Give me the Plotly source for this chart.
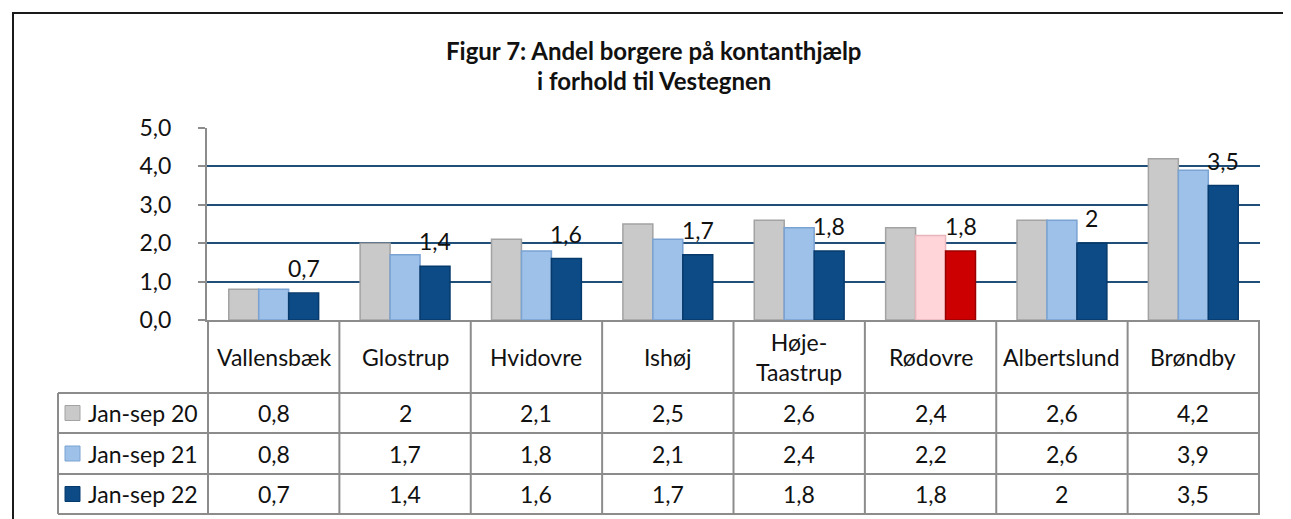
import plotly.graph_objects as go

categories = ["Vallensbæk", "Glostrup", "Hvidovre", "Ishøj", "Høje-Taastrup", "Rødovre", "Albertslund", "Brøndby"]
category_labels = ["Vallensbæk", "Glostrup", "Hvidovre", "Ishøj", "Høje-<br>Taastrup", "Rødovre", "Albertslund", "Brøndby"]
series_names = ["Jan-sep 20", "Jan-sep 21", "Jan-sep 22"]
jan_sep_20 = [0.8, 2, 2.1, 2.5, 2.6, 2.4, 2.6, 4.2]
jan_sep_21 = [0.8, 1.7, 1.8, 2.1, 2.4, 2.2, 2.6, 3.9]
jan_sep_22 = [0.7, 1.4, 1.6, 1.7, 1.8, 1.8, 2, 3.5]
y_ticks = [0, 1, 2, 3, 4, 5]
title_lines = ["Figur 7: Andel borgere på kontanthjælp", "i forhold til Vestegnen"]

series_values = [jan_sep_20, jan_sep_21, jan_sep_22]
highlight = "Rødovre"

base_fill = ["#c9c9c9", "#9dc1e8", "#0d4b87"]
base_line = ["#a3a3a3", "#7aa2d2", "#073a6c"]
hl_fill = ["#c9c9c9", "#ffd5d9", "#cc0000"]
hl_line = ["#a3a3a3", "#e8b5ba", "#990000"]

W, H = 1291, 519
OFF = 8  # page body margin
L, R, T, B = 207, 1260, 128, 320  # target plot area in screen pixels
FONT = "Lato"

def px(X):
    return (X - L) / (R - L)

def py(Y):
    return (B - Y) / (B - T)

def fmt(v):
    return f"{v:g}".replace(".", ",")

fig = go.Figure()
for i, (name, vals) in enumerate(zip(series_names, series_values)):
    fills = [hl_fill[i] if c == highlight else base_fill[i] for c in categories]
    lines = [hl_line[i] if c == highlight else base_line[i] for c in categories]
    fig.add_trace(go.Bar(
        x=categories, y=vals, name=name,
        marker=dict(color=fills, line=dict(color=lines, width=1.5)),
        showlegend=False,
    ))

shapes = []
annotations = []
grey = "#8c8c8c"
TXT = "#111"

# outer chart border
shapes.append(dict(type="rect", xref="paper", yref="paper",
                   x0=px(13), x1=px(1287), y0=py(560), y1=py(13),
                   line=dict(color="#1a1a1a", width=2), fillcolor="rgba(0,0,0,0)", layer="below"))

# table horizontal lines
for Y in [393, 433, 474, 514]:
    shapes.append(dict(type="line", xref="paper", yref="paper",
                       x0=px(58), x1=1, y0=py(Y), y1=py(Y),
                       line=dict(color=grey, width=2)))
# table vertical lines
for k in range(len(categories) + 1):
    shapes.append(dict(type="line", xref="x", yref="paper",
                       x0=k - 0.5, x1=k - 0.5, y0=py(320), y1=py(514),
                       line=dict(color=grey, width=2)))
shapes.append(dict(type="line", xref="paper", yref="paper",
                   x0=px(58), x1=px(58), y0=py(393), y1=py(514),
                   line=dict(color=grey, width=2)))

# category labels row
for c, lab in zip(categories, category_labels):
    annotations.append(dict(x=c, y=py(357), xref="x", yref="paper", text=lab,
                            showarrow=False, font=dict(family=FONT, size=23, color=TXT),
                            xanchor="center", yanchor="middle"))

row_centers = [413, 453.5, 494]
for i, (name, vals) in enumerate(zip(series_names, series_values)):
    Yc = row_centers[i]
    shapes.append(dict(type="rect", xref="paper", yref="paper",
                       x0=px(65), x1=px(80), y0=py(Yc + 7.5), y1=py(Yc - 7.5),
                       fillcolor=base_fill[i], line=dict(color=base_line[i], width=1)))
    annotations.append(dict(x=px(86), y=py(Yc), xref="paper", yref="paper", text=name,
                            showarrow=False, font=dict(family=FONT, size=23, color=TXT),
                            xanchor="left", yanchor="middle"))
    for c, v in zip(categories, vals):
        annotations.append(dict(x=c, y=py(Yc), xref="x", yref="paper", text=fmt(v),
                                showarrow=False, font=dict(family=FONT, size=23, color=TXT),
                                xanchor="center", yanchor="middle"))

# data labels for last series
for c, v in zip(categories, jan_sep_22):
    annotations.append(dict(x=c, y=v, xref="x", yref="y", text=fmt(v), showarrow=False,
                            xshift=30, yshift=9, xanchor="center", yanchor="bottom",
                            font=dict(family=FONT, size=23, color=TXT)))

# title
for line, Y in zip(title_lines, [50, 81]):
    annotations.append(dict(x=px(654), y=py(Y), xref="paper", yref="paper", text=f"<b>{line}</b>",
                            showarrow=False, font=dict(family=FONT, size=24, color=TXT),
                            xanchor="center", yanchor="middle"))

fig.update_layout(
    width=W, height=H,
    margin=dict(l=L - OFF, r=W - (R - OFF), t=T - OFF, b=H - (B - OFF), pad=0),
    paper_bgcolor="white", plot_bgcolor="white",
    barmode="group", bargap=0.316, bargroupgap=0,
    font=dict(family=FONT, size=20, color=TXT),
    separators=",.",
    shapes=shapes, annotations=annotations,
    xaxis=dict(showticklabels=False, showline=True, linecolor=grey, linewidth=2,
               showgrid=False, ticks="", zeroline=False, fixedrange=True),
    yaxis=dict(range=[0, 5], tickvals=y_ticks, tickformat=".1f",
               showline=True, linecolor=grey, linewidth=2,
               ticks="outside", ticklen=7, tickcolor=grey, tickwidth=2,
               showgrid=True, gridcolor="#1f4e79", gridwidth=2, zeroline=False,
               tickfont=dict(family=FONT, size=23, color=TXT), ticklabelstandoff=22),
)

fig.write_html("out.html")
